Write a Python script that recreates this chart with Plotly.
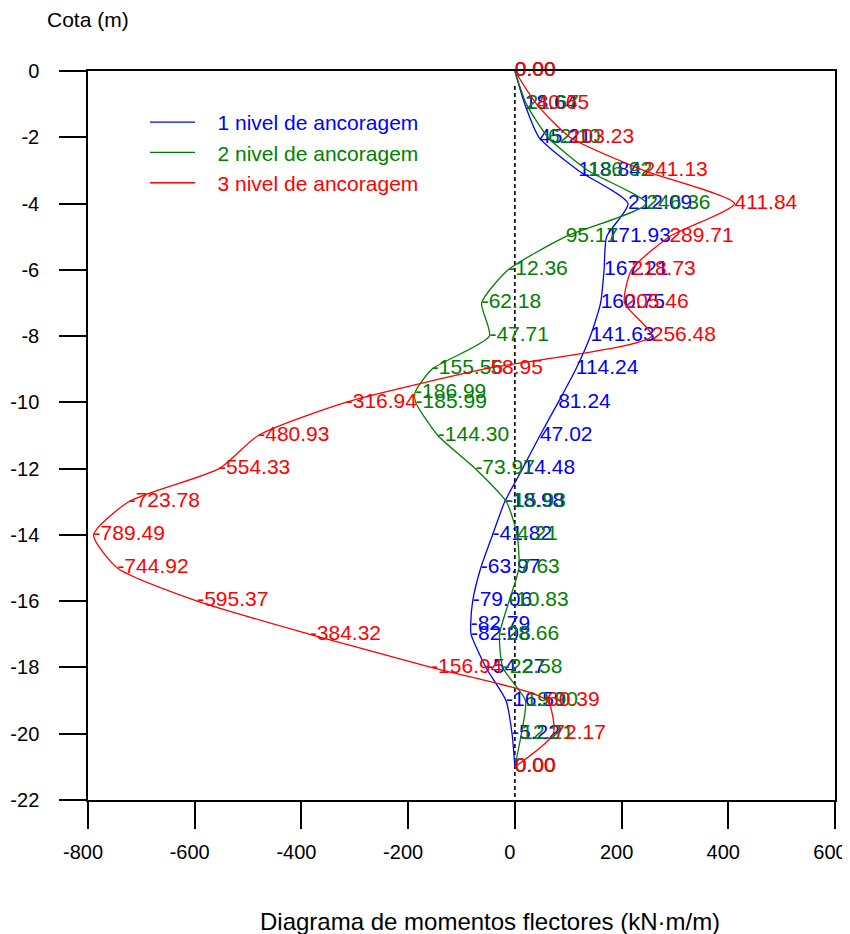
import plotly.graph_objects as go

# ---- data ----
depth_1 = [0, -1, -2, -3, -4, -5, -6, -7, -8, -9, -10, -11, -12, -13, -14, -15, -16, -16.7, -17, -18, -19, -20, -21]
moment_1 = [0.00, 18.64, 45.21, 118.84, 212.09, 171.93, 167.21, 160.75, 141.63, 114.24, 81.24, 47.02, 14.48,
            -18.98, -41.82, -63.97, -79.06, -82.79, -82.08, -54.27, -16.59, -5.22, 0.00]

depth_2 = [0, -1, -2, -3, -4, -5, -6, -7, -8, -9, -9.7, -10, -11, -12, -13, -14, -15, -16, -17, -18, -19, -20, -21]
moment_2 = [0.00, 21.67, 62.10, 136.92, 246.36, 95.17, -12.36, -62.18, -47.71, -155.56, -186.99, -185.99, -144.30,
            -73.97, -15.93, 4.21, 7.63, -10.83, -28.66, -22.58, 19.90, 12.21, 0.00]

depth_3 = [0, -1, -2, -3, -4, -5, -6, -7, -8, -9, -10, -11, -12, -13, -14, -15, -16, -17, -18, -19, -20, -21]
moment_3 = [0.00, 40.65, 103.23, 241.13, 411.84, 289.71, 218.73, 205.46, 256.48, -58.95, -316.94, -480.93,
            -554.33, -723.78, -789.49, -744.92, -595.37, -384.32, -156.94, 60.39, 72.17, 0.00]

series_names = ["1 nivel de ancoragem", "2 nivel de ancoragem", "3 nivel de ancoragem"]
series_colors = ["#0000FF", "#008000", "#FF0000"]

x_ticks = [-800, -600, -400, -200, 0, 200, 400, 600]
y_ticks = [0, -2, -4, -6, -8, -10, -12, -14, -16, -18, -20, -22]

FONT = "Liberation Sans, Arial, sans-serif"

fig = go.Figure()

# zero reference line (dashed)
fig.add_shape(type="line", x0=0, x1=0, y0=-0.45, y1=-22, xref="x", yref="y",
              line=dict(color="black", width=1.6, dash="4px,3px"), layer="below")

for d, m, name, col in [(depth_1, moment_1, series_names[0], series_colors[0]),
                        (depth_2, moment_2, series_names[1], series_colors[1]),
                        (depth_3, moment_3, series_names[2], series_colors[2])]:
    fig.add_trace(go.Scatter(
        x=m, y=d, mode="lines+text",
        name="\u00a0\u00a0\u00a0" + f"<span style='color:{col}'>{name}</span>",
        line=dict(color=col, width=1.3, shape="spline", smoothing=0.6),
        text=[f"{v:.2f}" for v in m],
        textposition="middle right",
        textfont=dict(family=FONT, size=21, color=col),
        cliponaxis=False,
    ))

axis_common = dict(showgrid=False, zeroline=False, showline=True, linecolor="black", linewidth=1.5,
                   mirror=True, ticks="outside", ticklen=27, tickwidth=1.5, tickcolor="black",
                   tickfont=dict(family=FONT, size=20), automargin=False, ticklabeloverflow="allow")

# page has an 8px body margin; figure sized to fit the window without scrollbars.
# plot area at page x 88-835, y 71-800
fig.update_layout(
    width=842, height=926,
    margin=dict(l=80, r=15, t=63, b=134),
    paper_bgcolor="white", plot_bgcolor="white",
    font=dict(family=FONT, size=20, color="black"),
    showlegend=True,
    legend=dict(x=(145 - 88) / 747, y=(800 - 102) / 729, xanchor="left", yanchor="top",
                bgcolor="rgba(0,0,0,0)", font=dict(family=FONT, size=21),
                itemwidth=45, tracegroupgap=0),
    xaxis=dict(range=[-800, 600], tickvals=x_ticks, ticktext=[str(v) for v in x_ticks],
               ticklabelstandoff=6, ticklabelshift=-5, **axis_common),
    yaxis=dict(range=[-22, 0], tickvals=y_ticks, ticktext=[str(v) for v in y_ticks],
               ticklabelstandoff=16, **axis_common),
    annotations=[
        dict(text="Cota (m)", xref="paper", yref="paper", x=(45 - 88) / 747, y=(800 - 20) / 729,
             xanchor="left", yanchor="middle", showarrow=False, font=dict(family=FONT, size=21)),
        dict(text="Diagrama de momentos flectores (kN·m/m)", xref="paper", yref="paper",
             x=(490 - 88) / 747, y=(800 - 921) / 729, xanchor="center", yanchor="middle",
             showarrow=False, font=dict(family=FONT, size=24)),
    ],
)

fig.write_html("out.html")
